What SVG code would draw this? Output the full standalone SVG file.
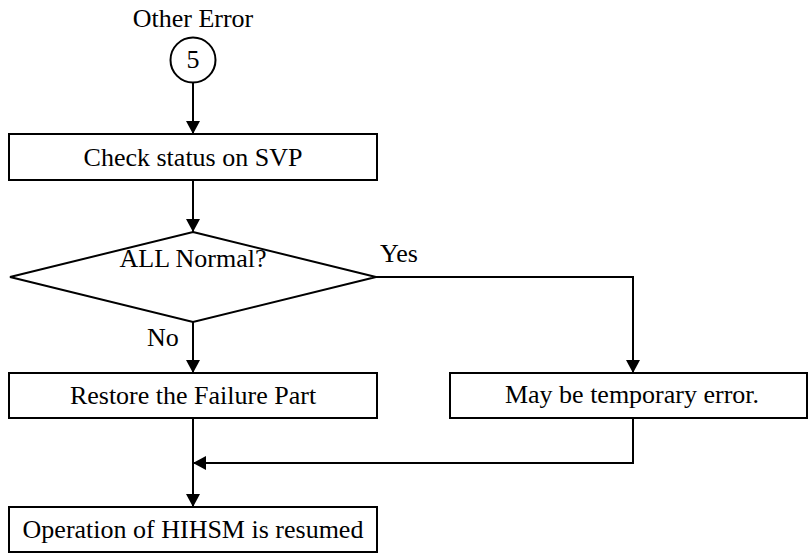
<svg xmlns="http://www.w3.org/2000/svg" width="808" height="554" viewBox="0 0 808 554">
<style>
text{font-family:"Liberation Serif","Times New Roman",serif;font-size:26px;fill:#000}
.c{text-anchor:middle}
.n{fill:#fff;stroke:#000;stroke-width:2}
.e{fill:none;stroke:#000;stroke-width:2}
</style>
<defs>
<marker id="a" markerWidth="13" markerHeight="14" refX="13" refY="7" orient="auto" markerUnits="userSpaceOnUse">
<path d="M0,0 L13,7 L0,14 Z" fill="#000"/>
</marker>
</defs>
<g id="edges">
<path class="e" d="M193,82 V134" marker-end="url(#a)"/>
<path class="e" d="M193,180 V232" marker-end="url(#a)"/>
<path class="e" d="M376,277 H633 V373" marker-end="url(#a)"/>
<path class="e" d="M193,322 V373" marker-end="url(#a)"/>
<path class="e" d="M193,418 V507" marker-end="url(#a)"/>
<path class="e" d="M633,418 V463 H193" marker-end="url(#a)"/>
</g>
<g id="start">
<text class="c" x="193" y="27">Other Error</text>
<circle class="n" cx="193" cy="60" r="22.5"/>
<text class="c" x="193" y="68">5</text>
</g>
<g id="check">
<rect class="n" x="9" y="134" width="368" height="46"/>
<text class="c" x="193" y="166">Check status on SVP</text>
</g>
<g id="decision">
<polygon class="n" points="193,232 376,277 193,322 10,277"/>
<text class="c" x="193" y="267">ALL Normal?</text>
<text x="380" y="262">Yes</text>
<text x="147" y="346">No</text>
</g>
<g id="restore">
<rect class="n" x="9" y="373" width="368" height="45"/>
<text class="c" x="193" y="404">Restore the Failure Part</text>
</g>
<g id="temp">
<rect class="n" x="450" y="373" width="357" height="45"/>
<text class="c" x="632" y="403">May be temporary error.</text>
</g>
<g id="resumed">
<rect class="n" x="9" y="507" width="368" height="45"/>
<text class="c" x="193" y="538">Operation of HIHSM is resumed</text>
</g>
</svg>
